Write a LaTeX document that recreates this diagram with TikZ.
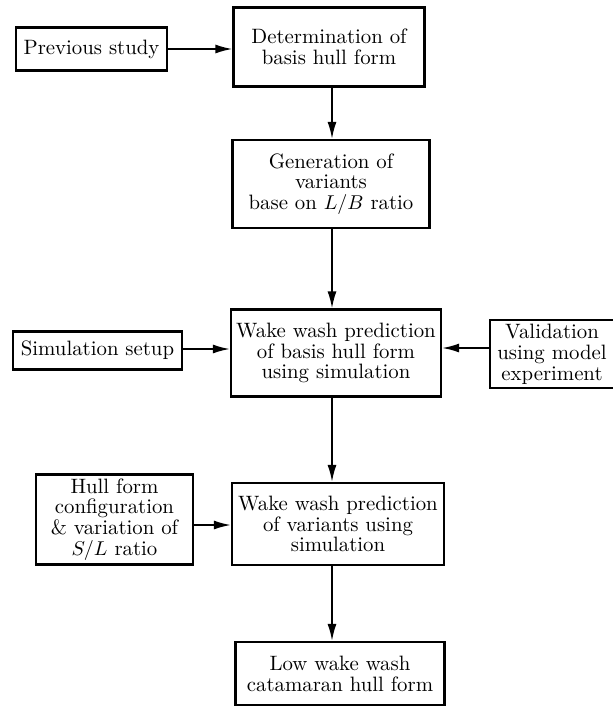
\documentclass[tikz,border=0pt]{standalone}
\usepackage{amsmath}
\usepackage{amsfonts}
\usepackage{tikz}
\usetikzlibrary{arrows.meta}

\begin{document}
\begin{tikzpicture}[x=0.5pt,y=-0.5pt,
		blok/.style={draw,line width=1.1pt,align=center,inner sep=2pt,font=\fontsize{10.4}{10.4}\selectfont},
		pijl/.style={-{Latex[length=8.5pt,width=4.5pt]},line width=0.9pt}]
				\useasboundingbox (0,0) rectangle (613,706);
				% middle column
				\node[blok,minimum width=95.5pt,minimum height=39.5pt] (det) at (329,47) {Determination of\\basis hull form};
				\node[blok,minimum width=98.5pt,minimum height=44pt] (gen) at (331,184) {Generation of\\variants\\base on $L/B$ ratio};
				\node[blok,minimum width=105pt,minimum height=43.5pt] (wake1) at (336,353) {Wake wash prediction\\of basis hull form\\using simulation};
				\node[blok,minimum width=106pt,minimum height=41pt] (wake2) at (338,524) {Wake wash prediction\\of variants using\\simulation};
				\node[blok,minimum width=104.5pt,minimum height=31.5pt] (low) at (340,673.5) {Low wake wash\\catamaran hull form};
				% inputs
				\node[blok,minimum width=75.5pt,minimum height=21.5pt] (prev) at (91.5,49) {Previous study};
				\node[blok,minimum width=84.5pt,minimum height=19pt] (sim) at (97.5,350.5) {Simulation setup};
				\node[blok,minimum width=62pt,minimum height=31pt] (valid) at (552,354) {Validation\\using model\\experiment};
				\node[blok,minimum width=78.5pt,minimum height=42.5pt] (hull) at (114.5,519.5) {Hull form\\configuration\\\& variation of\\$S/L$ ratio};
				\draw[pijl] (prev) -- (prev -| det.west);
				\draw[pijl] (det.south -| 332,0) -- (gen.north -| 332,0);
				\draw[pijl] (gen.south -| 332,0) -- (wake1.north -| 332,0);
				\draw[pijl] (sim.east |- 0,349) -- (wake1.west |- 0,349);
				\draw[pijl] (valid.west |- 0,348) -- (wake1.east |- 0,348);
				\draw[pijl] (wake1.south -| 332,0) -- (wake2.north -| 332,0);
				\draw[pijl] (hull.east |- 0,525) -- (wake2.west |- 0,525);
				\draw[pijl] (wake2.south -| 332,0) -- (low.north -| 332,0);
			\end{tikzpicture}
\end{document}
